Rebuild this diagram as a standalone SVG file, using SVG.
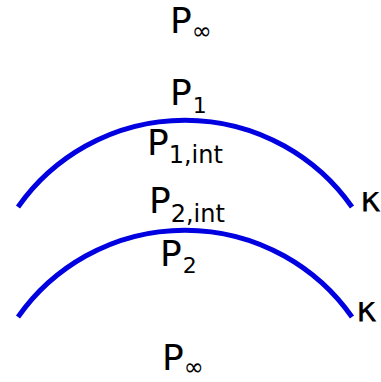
<svg xmlns="http://www.w3.org/2000/svg" width="381" height="382" viewBox="0 0 381 382">
<style>
.lbl{font-family:"DejaVu Sans",Verdana,sans-serif;font-size:36px;fill:#000}
.sub{font-size:24px}
.sm{font-size:22px}
.curve{fill:none;stroke:#0000e0;stroke-width:5}
</style>
<rect width="381" height="382" fill="#fff"/>
<g id="connectors">
<path class="curve" d="M18,207 A204,204 0 0 1 352,207"/>
<path class="curve" d="M18,317 A204,204 0 0 1 352,317"/>
</g>
<g id="p-inf-top"><text class="lbl" x="170" y="33">P<tspan class="sub" dy="6">∞</tspan></text></g>
<g id="p1"><text class="lbl" x="170" y="105">P<tspan class="sm" dx="1" dy="8">1</tspan></text></g>
<g id="p1int"><text class="lbl" x="147" y="155">P<tspan class="sub" dy="8">1,int</tspan></text></g>
<g id="p2int"><text class="lbl" x="149" y="213">P<tspan class="sub" dy="9">2,int</tspan></text></g>
<g id="p2"><text class="lbl" x="160" y="266">P<tspan class="sm" dx="1" dy="7">2</tspan></text></g>
<g id="p-inf-bot"><text class="lbl" x="162" y="370">P<tspan class="sub" dy="5">∞</tspan></text></g>
<g id="kappa1"><text class="lbl" x="360" y="212">κ</text></g>
<g id="kappa2"><text class="lbl" x="356" y="322">κ</text></g>
</svg>
